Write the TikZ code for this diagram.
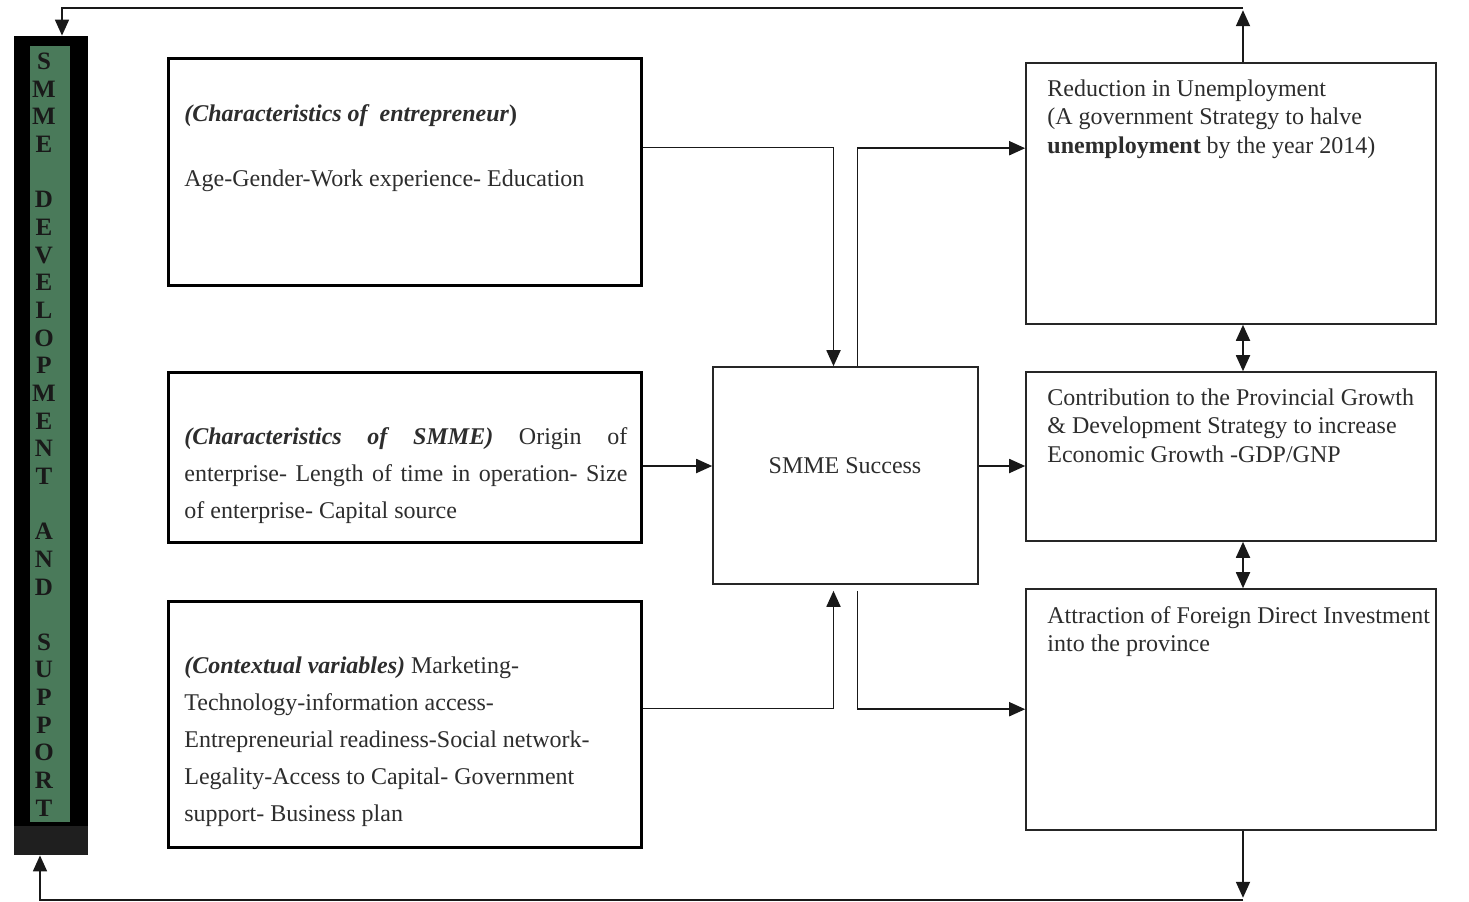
\documentclass[tikz,border=0pt]{standalone}
\usepackage{fontspec}
\setmainfont{Liberation Serif}
\usepackage{tikz}
\usetikzlibrary{calc,positioning,arrows.meta}
\definecolor{barGreen}{RGB}{74,122,90}
\definecolor{ink}{RGB}{45,45,45}
\tikzstyle{leftbox}=[rectangle, line width=1.5pt, draw=black, fill=white, inner sep=0pt, minimum width=473*0.5pt]
\tikzstyle{rightbox}=[rectangle, line width=0.8pt, draw=black!85, fill=white, inner sep=0pt, minimum width=410*0.5pt]
\tikzstyle{leftbody}=[inner sep=0pt, anchor=north west, align=left, text=ink, font=\fontsize{12}{18.5}\selectfont]
\tikzstyle{rightbody}=[inner sep=0pt, anchor=north west, align=left, text=ink, font=\fontsize{12}{14.25}\selectfont]
\tikzstyle{letter}=[inner sep=0pt, text=black!90, font=\fontsize{12.5}{13}\selectfont\bfseries]
\tikzstyle{conn}=[line width=0.9pt, draw=black!90, -{Triangle[length=8pt,width=7pt]}]
\newcommand{\tip}{Triangle[length=8pt,width=7pt]}
\newcommand{\bi}[1]{\textbf{\textit{#1}}}

\begin{document}
\begin{tikzpicture}[x=0.5pt,y=-0.5pt]
        \useasboundingbox (0,0) rectangle (1469,901);
        % side bar
        \node[rectangle, fill=black, inner sep=0pt, minimum width=74*0.5pt, minimum height=819*0.5pt] (bar) at (51,445.5) {};
        \fill[black!88] (bar.south west) rectangle ($(bar.south east)+(0,-29)$);
        \node[rectangle, fill=barGreen, inner sep=0pt, minimum width=40*0.5pt, minimum height=776*0.5pt] (strip) at (50,434) {};
        \foreach \ch [count=\i from 0] in {S,M,M,E,{},D,E,V,E,L,O,P,M,E,N,T,{},A,N,D,{},S,U,P,P,O,R,T}
        {
            \node[letter] (L\i) at (44,61.5+27.65*\i) {\ch};
        }
        % input boxes
        \node[leftbox, minimum height=227*0.5pt] (C1) at (404.5,171.5) {};
        \node[leftbody] (C1t) at (184,104) {\bi{(Characteristics of \ entrepreneur}\textbf{)}\\[14pt]
            Age-Gender-Work experience- Education};
        \node[leftbox, minimum height=170*0.5pt] (C2) at (404.5,457) {};
        \node[leftbody] (C2t) at (184,427) {\makebox[221.5pt][s]{\bi{(Characteristics of SMME)} Origin of}\\
            \makebox[221.5pt][s]{enterprise- Length of time in operation- Size}\\
            of enterprise- Capital source};
        \node[leftbox, minimum height=246*0.5pt] (C3) at (404.5,724) {};
        \node[leftbody] (C3t) at (184,656) {\bi{(Contextual variables)} Marketing-\\
            Technology-information access-\\
            Entrepreneurial readiness-Social network-\\
            Legality-Access to Capital- Government\\
            support- Business plan};
        % centre
        \node[rectangle, line width=0.8pt, draw=black!85, fill=white, minimum width=265*0.5pt, minimum height=217*0.5pt, text=ink, font=\fontsize{12}{14}\selectfont] (S) at (845.5,475.5) {};
        \node[text=ink, font=\fontsize{12}{14}\selectfont, inner sep=0pt] (St) at (845,466) {SMME Success};
        % outcome boxes
        \node[rightbox, minimum height=261*0.5pt] (R1) at (1231,193.5) {};
        \node[rightbody] (R1t) at (1047,79) {Reduction in Unemployment\\
            (A government Strategy to halve\\
            \textbf{unemployment} by the year 2014)};
        \node[rightbox, minimum height=169*0.5pt] (R2) at (1231,456.5) {};
        \node[rightbody] (R2t) at (1047,388) {Contribution to the Provincial Growth\\
            \& Development Strategy to increase\\
            Economic Growth -GDP/GNP};
        \node[rightbox, minimum height=241*0.5pt] (R3) at (1231,709.5) {};
        \node[rightbody] (R3t) at (1047,606) {Attraction of Foreign Direct Investment\\
            into the province};
        % connectors
        \draw[conn] ($(C1.north east)+(0,91)$) -| ($(S.north)+(-12,0)$);
        \draw[conn] ($(S.north)+(12,0)$) |- ($(R1.north west)+(0,86)$);
        \coordinate (mid) at ($(C2.east)+(0,9)$);
        \draw[conn] (mid) -- (mid -| S.west);
        \draw[conn] (mid -| S.east) -- (mid -| R2.west);
        \draw[conn, shorten >=3pt] ($(C3.north east)+(0,109)$) -| ($(S.south)+(-12,0)$);
        \draw[conn, shorten <=3pt] ($(S.south)+(12,0)$) |- ($(R3.north west)+(0,121)$);
        \draw[conn, {\tip}-{\tip}] ($(R1.south)+(12,0)$) -- ($(R2.north)+(12,0)$);
        \draw[conn, {\tip}-{\tip}] ($(R2.south)+(12,0)$) -- ($(R3.north)+(12,0)$);
        % feedback loop
        \coordinate (topR) at ($(R1.north)+(12,-54)$);
        \draw[conn, shorten >=1pt] ($(R1.north)+(12,0)$) -- (topR);
        \draw[conn] (topR) -| ($(bar.north)+(11,0)$);
        \coordinate (botR) at ($(R3.south)+(12,69)$);
        \draw[conn, shorten >=1pt] ($(R3.south)+(12,0)$) -- (botR);
        \draw[conn] (botR) -| ($(bar.south)+(-11,0)$);
\end{tikzpicture}
\end{document}
